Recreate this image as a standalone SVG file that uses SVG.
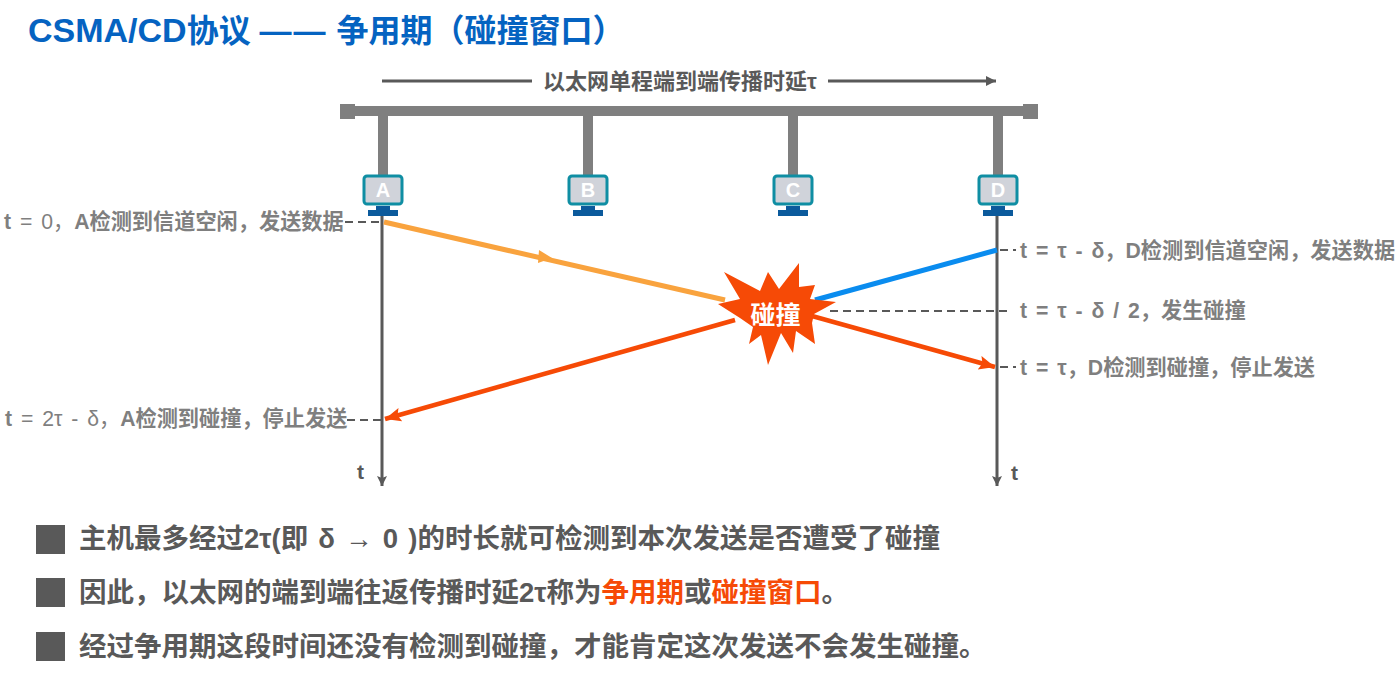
<svg xmlns="http://www.w3.org/2000/svg" width="1400" height="695" viewBox="0 0 1400 695">
<style>
text{font-family:"Liberation Sans","Noto Sans CJK SC",sans-serif;font-weight:700}
.title{font-size:32px;fill:#0563c1}
.title .latin{font-size:34px}
.title .rule{letter-spacing:2px}
.lab{font-size:21.2px;fill:#7f7f7f;word-spacing:3px}
.lab .n{font-weight:400}
.span{font-size:22px;fill:#595959}
.t{font-size:21px;fill:#595959}
.bul{font-size:27.5px;fill:#595959}
.wide{word-spacing:2.5px}
.hl{fill:#f64a06}
.pc{font-size:20px;fill:#fff;text-anchor:middle}
.bus{stroke:#7f7f7f;fill:none}
.axis{stroke:#595959;stroke-width:3;fill:none}
.dash{stroke:#595959;stroke-width:2;stroke-dasharray:8 5;fill:none}
.screen{fill:#d0d3da;stroke:#0f8ea3;stroke-width:3}
.base{fill:#0b5a9c}
.sq{fill:#595959}
</style>
<defs>
<marker id="headDark" markerUnits="userSpaceOnUse" markerWidth="12" markerHeight="12" refX="10" refY="5" orient="auto"><path d="M0 0L10 5L0 10L2 5Z" fill="#595959"/></marker>
<marker id="headDarkFlat" markerUnits="userSpaceOnUse" markerWidth="12" markerHeight="12" refX="10" refY="5" orient="auto"><path d="M0 0L10 5L0 10Z" fill="#595959"/></marker>
<marker id="headRed" markerUnits="userSpaceOnUse" markerWidth="18" markerHeight="16" refX="16" refY="7" orient="auto"><path d="M0 0L16 7L0 14L3 7Z" fill="#f64a06"/></marker>
</defs>

<text class="title" x="28" y="42"><tspan class="latin">CSMA/CD</tspan>协议 <tspan class="rule">——</tspan> 争用期（碰撞窗口）</text>

<g id="span-label">
<path d="M382 81H532" stroke="#595959" stroke-width="3" fill="none"/>
<path d="M828 81H996" stroke="#595959" stroke-width="3" fill="none" marker-end="url(#headDarkFlat)"/>
<text class="span" x="543" y="89">以太网单程端到端传播时延τ</text>
</g>

<g id="bus">
<path class="bus" stroke-width="10" d="M345 111H1032"/>
<rect x="340" y="104" width="15" height="15" fill="#7f7f7f"/>
<rect x="1023" y="104" width="15" height="15" fill="#7f7f7f"/>
</g>

<g id="connectors">
<path class="bus" stroke-width="10" d="M383 114V176M588 114V176M793 114V176M998 114V176"/>
<path class="axis" d="M382 210V486" marker-end="url(#headDark)"/>
<path class="axis" d="M997 210V486" marker-end="url(#headDark)"/>
<path class="dash" d="M345 222H381M1000 250H1016M830 311H1011M1000 367H1016M347 420H381"/>
<path d="M384 222L725 300" stroke="#f9a33e" stroke-width="5" fill="none"/>
<path d="M539 250L552 258L538 263Z" fill="#f9a33e"/>
<path d="M815 300L997 250" stroke="#0a8cef" stroke-width="5" fill="none"/>
<path d="M812 316L995 367" stroke="#f64a06" stroke-width="4.5" fill="none" marker-end="url(#headRed)"/>
<path d="M735 320L385 419" stroke="#f64a06" stroke-width="4.5" fill="none" marker-end="url(#headRed)"/>
</g>

<g id="host-a">
<rect class="screen" x="364" y="176" width="38" height="28" rx="3"/>
<text class="pc" x="383" y="197">A</text>
<rect class="base" x="376" y="206" width="14" height="4"/><rect class="base" x="368" y="210" width="30" height="6"/>
</g>
<g id="host-b">
<rect class="screen" x="569" y="176" width="38" height="28" rx="3"/>
<text class="pc" x="588" y="197">B</text>
<rect class="base" x="581" y="206" width="14" height="4"/><rect class="base" x="573" y="210" width="30" height="6"/>
</g>
<g id="host-c">
<rect class="screen" x="774" y="176" width="38" height="28" rx="3"/>
<text class="pc" x="793" y="197">C</text>
<rect class="base" x="786" y="206" width="14" height="4"/><rect class="base" x="778" y="210" width="30" height="6"/>
</g>
<g id="host-d">
<rect class="screen" x="979" y="176" width="38" height="28" rx="3"/>
<text class="pc" x="998" y="197">D</text>
<rect class="base" x="991" y="206" width="14" height="4"/><rect class="base" x="983" y="210" width="30" height="6"/>
</g>

<g id="collision">
<polygon fill="#f64a06" points="718,304 740,299 724,272 760,291 768,272 779,289 799,263 799,287 815,285 810,299 836,302 814,314 812,323 815,344 796,331 793,353 781,333 768,365 761,335 749,344 753,327 740,318"/>
<text x="775.500" y="324" font-size="25" fill="#fff" text-anchor="middle">碰撞</text>
</g>

<g id="labels">
<text class="lab" x="4" y="229">t <tspan class="n">= 0，</tspan>A检测到信道空闲，发送数据</text>
<text class="lab" x="5" y="426">t <tspan class="n">= 2τ - δ，</tspan>A检测到碰撞，停止发送</text>
<text class="lab" x="1020" y="258">t = τ - δ，D检测到信道空闲，发送数据</text>
<text class="lab" x="1020" y="318">t = τ - δ / 2，发生碰撞</text>
<text class="lab" x="1020" y="375">t = τ，D检测到碰撞，停止发送</text>
<text class="t" x="357" y="479">t</text>
<text class="t" x="1011" y="480">t</text>
</g>

<g id="notes">
<rect class="sq" x="36" y="525" width="29" height="29"/>
<text class="bul wide" x="79" y="548">主机最多经过2τ(即 δ → 0 )的时长就可检测到本次发送是否遭受了碰撞</text>
<rect class="sq" x="36" y="578" width="29" height="29"/>
<text class="bul" x="79" y="602">因此，以太网的端到端往返传播时延2τ称为<tspan class="hl">争用期</tspan>或<tspan class="hl">碰撞窗口</tspan>。</text>
<rect class="sq" x="36" y="632" width="29" height="29"/>
<text class="bul" x="79" y="656">经过争用期这段时间还没有检测到碰撞，才能肯定这次发送不会发生碰撞。</text>
</g>
</svg>
